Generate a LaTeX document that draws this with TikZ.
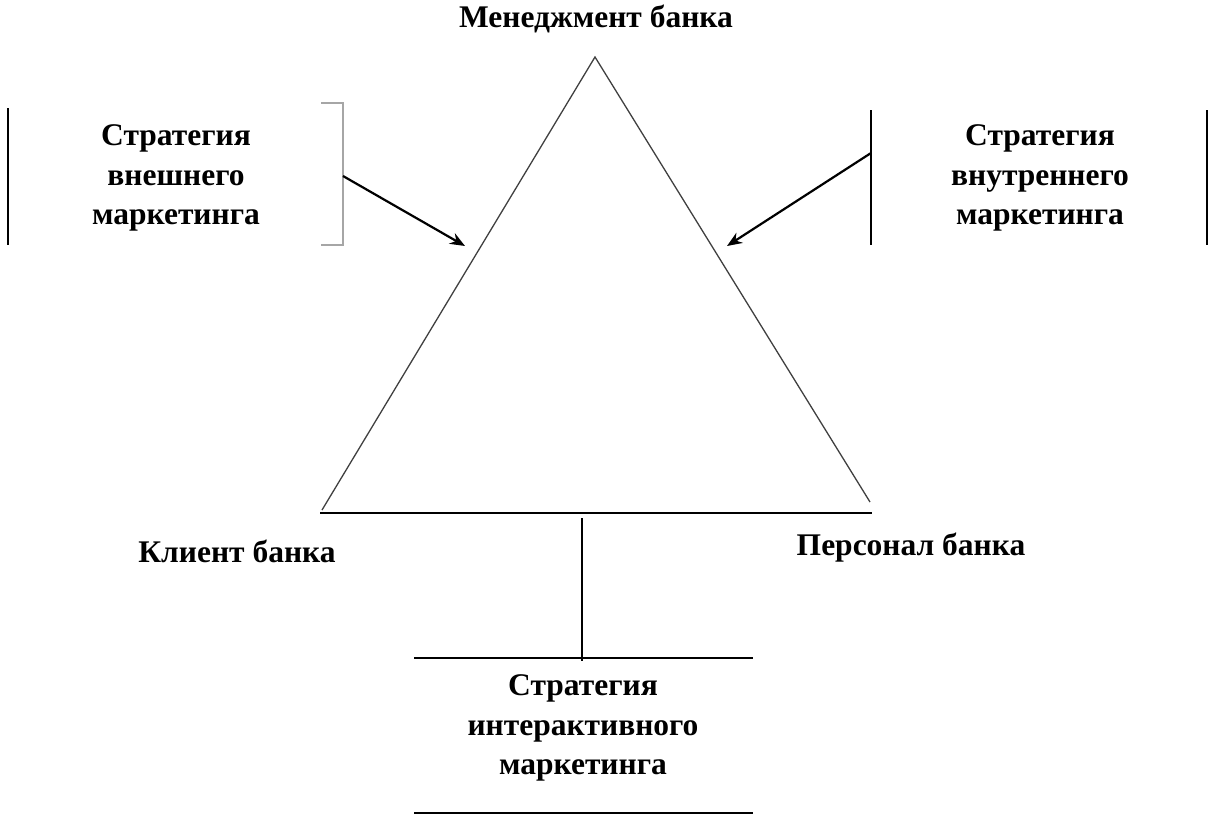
\documentclass[tikz,border=0pt]{standalone}
\usepackage{fontspec}
\setmainfont{Liberation Serif}
\usetikzlibrary{arrows.meta}
\begin{document}
\begin{tikzpicture}[x=1pt,y=-1pt,
  lbl/.style={font=\bfseries\fontsize{31.5}{39.5}\selectfont, align=center, inner sep=0pt},
  thin line/.style={draw=black!75, line width=1.3pt},
  thick line/.style={draw=black, line width=1.8pt},
  arr/.style={draw=black, line width=2.2pt, -{Stealth[length=15pt,width=12pt]}},
  bracket/.style={draw=black!35, line width=2.2pt}]
\useasboundingbox (0,0) rectangle (1208,816);
% triangle
\coordinate (apex) at (595,57);
\coordinate (bl) at (322,510);
\coordinate (br) at (870,502);
\draw[thin line] (bl) -- (apex) -- (br);
\coordinate (bottomL) at (320,513);
\coordinate (bottomR) at (872,513);
\draw[thick line] (bottomL) -- (bottomR);
% stem to interactive strategy
\coordinate (stemTop) at (582,518);
\coordinate (stemBot) at (582,661);
\draw[line width=2.6pt] (stemTop) -- (stemBot);
\coordinate (iTopL) at (414,658);
\coordinate (iTopR) at (753,658);
\coordinate (iBotL) at (414,813);
\coordinate (iBotR) at (753,813);
\draw[thick line] (iTopL) -- (iTopR);
\draw[thick line] (iBotL) -- (iBotR);
% labels
\node[lbl] (mgmt) at (596,19) {Менеджмент банка};
\node[lbl] (client) at (237,551) {Клиент банка};
\node[lbl] (staff) at (911,548) {Персонал банка};
\node[lbl] (ext) at (176,178) {Стратегия\\внешнего\\маркетинга};
\node[lbl] (int) at (1040,178) {Стратегия\\внутреннего\\маркетинга};
\node[lbl] (inter) at (583,728) {Стратегия\\интерактивного\\маркетинга};
% left box
\coordinate (lL1) at (8,108);
\coordinate (lL2) at (8,245);
\draw[thick line] (lL1) -- (lL2);
\coordinate (bA) at (321,103);
\coordinate (bB) at (343,103);
\coordinate (bC) at (343,245);
\coordinate (bD) at (321,245);
\draw[bracket] (bA) -- (bB) -- (bC) -- (bD);
\coordinate (extFrom) at (343,176);
\coordinate (extTo) at (465,246);
\draw[arr] (extFrom) -- (extTo);
% right box
\coordinate (rL1) at (871,110);
\coordinate (rL2) at (871,245);
\draw[thick line] (rL1) -- (rL2);
\coordinate (rR1) at (1207,110);
\coordinate (rR2) at (1207,245);
\draw[thick line] (rR1) -- (rR2);
\coordinate (intFrom) at (871,153);
\coordinate (intTo) at (727,246);
\draw[arr] (intFrom) -- (intTo);
\end{tikzpicture}
\end{document}
